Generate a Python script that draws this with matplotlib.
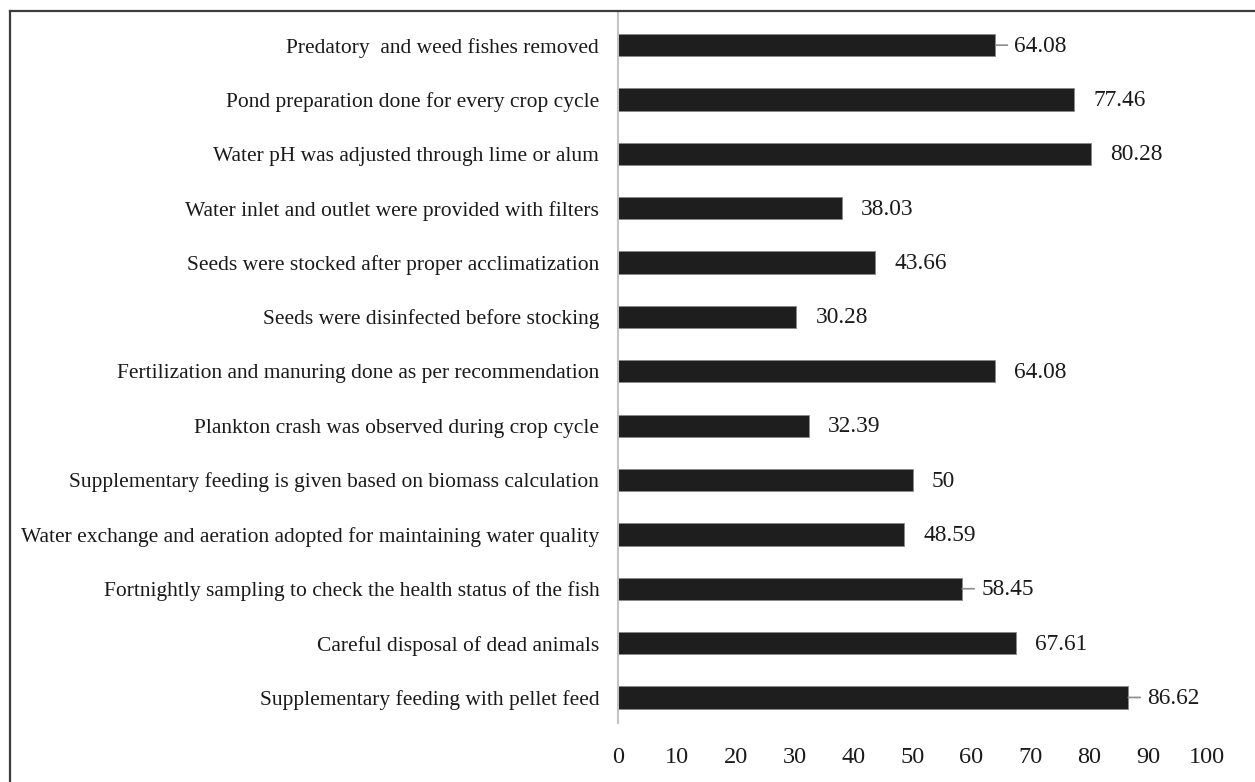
import matplotlib
matplotlib.use("Agg")
import matplotlib.pyplot as plt
from matplotlib.lines import Line2D

practices = [
    "Predatory  and weed fishes removed",
    "Pond preparation done for every crop cycle",
    "Water pH was adjusted through lime or alum",
    "Water inlet and outlet were provided with filters",
    "Seeds were stocked after proper acclimatization",
    "Seeds were disinfected before stocking",
    "Fertilization and manuring done as per recommendation",
    "Plankton crash was observed during crop cycle",
    "Supplementary feeding is given based on biomass calculation",
    "Water exchange and aeration adopted for maintaining water quality",
    "Fortnightly sampling to check the health status of the fish",
    "Careful disposal of dead animals",
    "Supplementary feeding with pellet feed",
]
percent = [64.08, 77.46, 80.28, 38.03, 43.66, 30.28, 64.08,
           32.39, 50, 48.59, 58.45, 67.61, 86.62]
value_labels = ["64.08", "77.46", "80.28", "38.03", "43.66", "30.28", "64.08",
                "32.39", "50", "48.59", "58.45", "67.61", "86.62"]
# labels that were dragged out in the original and got a leader line
with_leader = [0, 10, 12]
x_ticks = [0, 10, 20, 30, 40, 50, 60, 70, 80, 90, 100]

plt.rcParams["font.family"] = ["Liberation Serif", "DejaVu Serif"]

W, H = 1255, 782
fig = plt.figure(figsize=(W / 100, H / 100), dpi=100)
fig.patch.set_facecolor("white")

ax_left, ax_right, ax_top, ax_bot = 618, 1207, 12, 723
ax = fig.add_axes([ax_left / W, 1 - ax_bot / H,
                   (ax_right - ax_left) / W, (ax_bot - ax_top) / H])

ypos = list(range(len(practices)))
ax.barh(ypos, percent, height=0.41, color="#1e1e1e",
        edgecolor="#8a8a8a", linewidth=0.6, zorder=2)

ax.set_xlim(0, 100)
ax.set_ylim(len(practices) - 1 + 0.47, -0.61)
ax.set_yticks(ypos)
ax.set_yticklabels(practices, fontsize=15.5, color="#1a1a1a")
ax.set_xticks(x_ticks)
ax.set_xticklabels([str(t) for t in x_ticks], fontsize=17.5, color="#1a1a1a")
ax.tick_params(axis="y", length=0, pad=13.5)
ax.tick_params(axis="x", length=0, pad=17.5)

for s in ["top", "right", "bottom"]:
    ax.spines[s].set_visible(False)
ax.spines["left"].set_color("#c4c4c4")
ax.spines["left"].set_linewidth(1.5)

for i, (v, lab) in enumerate(zip(percent, value_labels)):
    ax.annotate(lab, xy=(v, i), xytext=(19, -1), textcoords="offset pixels",
                va="center", ha="left", fontsize=16.8, color="#1a1a1a")
    if i in with_leader:
        ax.annotate("", xy=(v, i), xytext=(12, 0), textcoords="offset pixels",
                    arrowprops=dict(arrowstyle="-", color="#8c8c8c", lw=1.2,
                                    shrinkA=0, shrinkB=0))

# frame of the original figure: only top and left edges are visible
fig.add_artist(Line2D([10 / W, 1], [1 - 11 / H, 1 - 11 / H],
                      transform=fig.transFigure, color="#3c3c3c", lw=1.6))
fig.add_artist(Line2D([10 / W, 10 / W], [0, 1 - 11 / H],
                      transform=fig.transFigure, color="#3c3c3c", lw=1.6))

fig.savefig("out.png", dpi=100, facecolor="white")
plt.close(fig)
